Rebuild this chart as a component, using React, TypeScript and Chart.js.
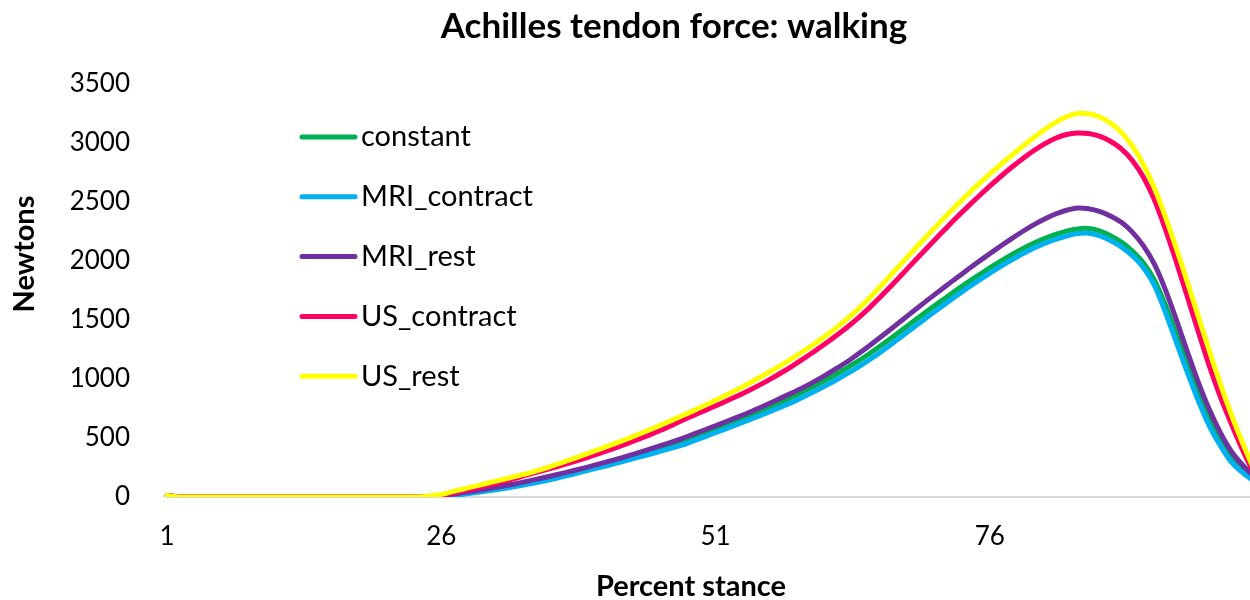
import React, { useEffect, useRef } from "react";
import { Chart, registerables } from "chart.js";

Chart.register(...registerables);

const percentStance: string[] = Array.from({ length: 100 }, (_, i) => String(i + 1));
const tickLabels = ["1", "26", "51", "76"];
const chartTitle = "Achilles tendon force: walking";
const xTitle = "Percent stance";
const yTitle = "Newtons";

const seriesNames = ["constant", "MRI_contract", "MRI_rest", "US_contract", "US_rest"];
const seriesColors = ["#00B050", "#00B0F0", "#7030A0", "#FF0066", "#FFFF00"];

const lead = [12, 0, 0, 0, 0, 0, 0, 0, 0, 0, 0, 0, 0, 0, 0, 0, 0, 0, 0, 0, 0, 0, 0, 0];

const constant = [...lead,
  3, 10, 18, 28, 40, 53, 68, 84, 101, 119, 138, 159, 181, 205, 229, 253, 277, 302, 328, 354,
  379, 405, 432, 460, 495, 530, 566, 603, 641, 680, 720, 761, 803, 847, 893, 940, 989, 1040, 1094, 1151,
  1212, 1277, 1345, 1415, 1485, 1554, 1622, 1689, 1755, 1819, 1881, 1941, 1999, 2054, 2105, 2151, 2191, 2225, 2253, 2272,
  2276, 2256, 2215, 2160, 2085, 1985, 1840, 1630, 1385, 1130, 880, 660, 480, 335, 235, 155];

const mriContract = [...lead,
  2, 8, 15, 24, 35, 48, 62, 77, 93, 110, 128, 148, 170, 193, 217, 240, 263, 287, 313, 338,
  362, 388, 414, 441, 476, 510, 545, 580, 616, 652, 688, 726, 764, 803, 848, 894, 942, 992, 1045, 1101,
  1161, 1225, 1293, 1363, 1433, 1503, 1573, 1641, 1708, 1773, 1836, 1896, 1955, 2010, 2062, 2108, 2149, 2184, 2212, 2232,
  2236, 2214, 2174, 2120, 2045, 1945, 1795, 1570, 1315, 1060, 820, 605, 440, 300, 210, 140];

const mriRest = [...lead,
  3, 12, 24, 37, 51, 66, 82, 99, 117, 137, 157, 178, 200, 222, 245, 270, 295, 321, 348, 376,
  405, 435, 465, 497, 533, 568, 603, 640, 677, 714, 755, 797, 840, 883, 928, 978, 1031, 1087, 1146, 1212,
  1280, 1351, 1424, 1498, 1572, 1645, 1717, 1788, 1858, 1927, 1995, 2062, 2127, 2190, 2250, 2306, 2356, 2398, 2430, 2449,
  2442, 2420, 2382, 2328, 2245, 2130, 1975, 1760, 1505, 1235, 975, 745, 550, 390, 275, 185];

const usContract = [...lead,
  5, 15, 33, 52, 72, 93, 115, 140, 165, 192, 217, 243, 270, 297, 325, 356, 388, 421, 455, 490,
  526, 565, 607, 650, 692, 732, 772, 813, 855, 900, 948, 999, 1053, 1110, 1170, 1233, 1298, 1366, 1438, 1516,
  1601, 1692, 1788, 1886, 1985, 2083, 2180, 2276, 2370, 2461, 2549, 2634, 2716, 2794, 2867, 2934, 2993, 3040, 3072, 3085,
  3080, 3058, 3015, 2950, 2852, 2712, 2520, 2272, 1995, 1702, 1405, 1115, 855, 625, 410, 215];

const usRest = [...lead,
  11, 22, 45, 68, 90, 112, 135, 157, 180, 203, 230, 260, 292, 324, 357, 390, 424, 459, 495, 532,
  570, 609, 649, 690, 732, 775, 819, 864, 911, 960, 1012, 1064, 1118, 1175, 1235, 1297, 1363, 1433, 1509, 1592,
  1683, 1781, 1882, 1984, 2085, 2185, 2283, 2380, 2475, 2566, 2653, 2737, 2818, 2896, 2972, 3045, 3115, 3175, 3222, 3250,
  3248, 3222, 3170, 3090, 2975, 2820, 2620, 2378, 2110, 1825, 1535, 1245, 965, 705, 470, 250];

const seriesValues = [constant, mriContract, mriRest, usContract, usRest];

const FONT = "Lato, 'Open Sans', sans-serif";

const customPlugin = {
  id: "customText",
  afterDraw(chart: any) {
    const ctx = chart.ctx;
    const ca = chart.chartArea;
    ctx.save();
    ctx.fillStyle = "#000";
    ctx.font = `bold 29px ${FONT}`;
    ctx.textAlign = "center";
    ctx.textBaseline = "middle";
    ctx.fillText(xTitle, 691, 587);
    ctx.save();
    ctx.translate(25, 254);
    ctx.rotate(-Math.PI / 2);
    ctx.fillText(yTitle, 0, 0);
    ctx.restore();
    const lx = ca.left + 135;
    seriesNames.forEach((name, i) => {
      const y = 137 + i * 59.8;
      ctx.strokeStyle = seriesColors[i];
      ctx.lineWidth = 5;
      ctx.lineCap = "round";
      ctx.beginPath();
      ctx.moveTo(lx, y);
      ctx.lineTo(lx + 53, y);
      ctx.stroke();
      ctx.fillStyle = "#000";
      ctx.font = `29px ${FONT}`;
      ctx.textAlign = "left";
      ctx.fillText(name, lx + 59, y);
    });
    ctx.restore();
  },
};

export default function App() {
  const ref = useRef<HTMLCanvasElement | null>(null);
  useEffect(() => {
    if (!ref.current) return;
    const chart = new Chart(ref.current, {
      type: "line",
      data: {
        labels: percentStance,
        datasets: seriesNames.map((name, i) => ({
          label: name,
          data: seriesValues[i],
          borderColor: seriesColors[i],
          backgroundColor: seriesColors[i],
          borderWidth: 5,
          pointRadius: 0,
          tension: 0.3,
          borderCapStyle: "round" as const,
          borderJoinStyle: "round" as const,
          fill: false,
          order: seriesNames.length - i,
        })),
      },
      options: {
        responsive: false,
        animation: false,
        devicePixelRatio: 1,
        layout: { padding: 0 },
        plugins: {
          legend: { display: false },
          tooltip: { enabled: false },
          title: {
            display: true,
            text: chartTitle,
            color: "#000",
            font: { family: FONT, size: 35, weight: "bold" },
            padding: { top: 6, bottom: 36 },
          },
        },
        scales: {
          x: {
            type: "category",
            grid: { display: false, drawTicks: false },
            border: { display: true, color: "#D9D9D9", width: 2 },
            ticks: {
              autoSkip: false,
              maxRotation: 0,
              minRotation: 0,
              padding: 24,
              color: "#000",
              font: { family: FONT, size: 26 },
              callback: (_v: any, idx: number) =>
                tickLabels.includes(percentStance[idx]) ? percentStance[idx] : "",
            },
            afterFit: (s: any) => {
              s.height = 103;
            },
          },
          y: {
            min: 0,
            max: 3500,
            grid: { display: false, drawTicks: false },
            border: { display: false },
            ticks: {
              stepSize: 500,
              padding: 37,
              color: "#000",
              font: { family: FONT, size: 26 },
              callback: (v: any) => String(v),
            },
            afterFit: (s: any) => {
              s.width = 167;
            },
          },
          yRightSpace: {
            type: "linear",
            position: "right",
            display: true,
            min: 0,
            max: 3500,
            grid: { display: false, drawTicks: false },
            border: { display: false },
            ticks: { display: false },
            afterFit: (s: any) => {
              s.width = 95;
            },
          },
        },
      },
      plugins: [customPlugin],
    });
    return () => chart.destroy();
  }, []);
  return (
    <div
      style={{
        position: "fixed",
        left: 0,
        top: 0,
        width: 1250,
        height: 600,
        overflow: "hidden",
        background: "#fff",
      }}
    >
      <canvas ref={ref} width={1348} height={600} style={{ display: "block" }} />
    </div>
  );
}
